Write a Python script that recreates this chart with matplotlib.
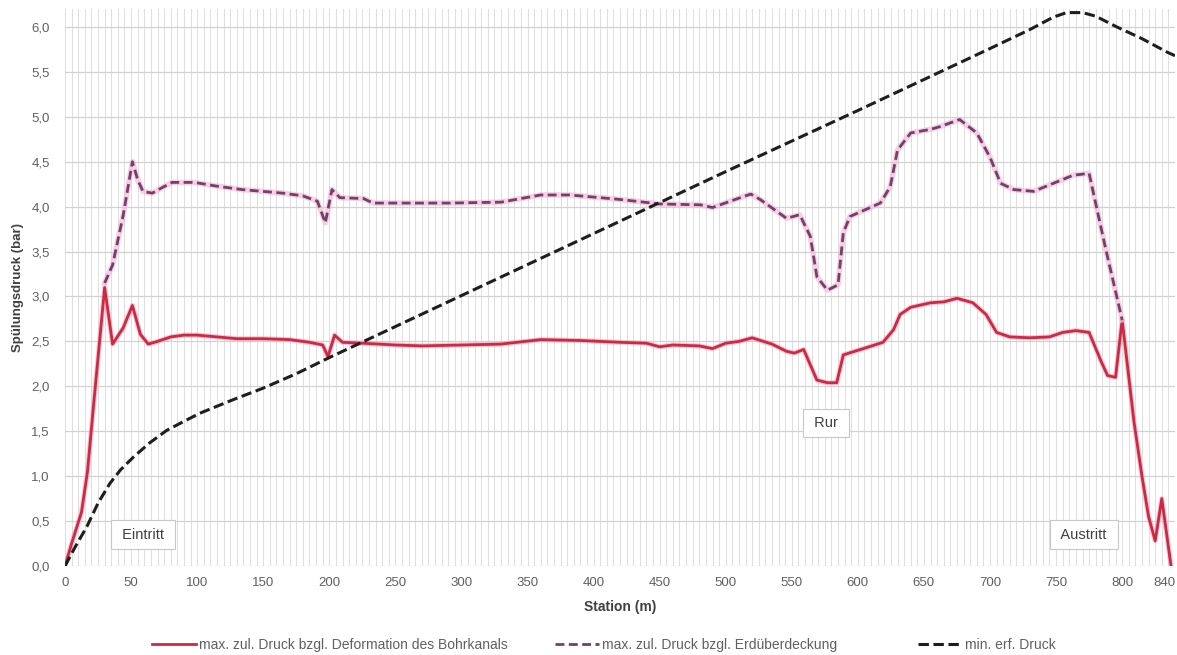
import numpy as np
import matplotlib
matplotlib.use("Agg")
import matplotlib.pyplot as plt
from matplotlib.ticker import MultipleLocator, FuncFormatter

plt.rcParams['font.family'] = ['Liberation Sans', 'DejaVu Sans']

# max. zul. Druck bzgl. Deformation des Bohrkanals
st_def = [0, 5, 12.5, 17, 22, 30, 36, 44, 51, 57, 63, 70, 80, 90, 100, 115, 130, 150,
          170, 185, 195, 199, 204, 210, 225, 250, 270, 300, 330, 360, 390, 420, 440,
          450, 460, 480, 490, 500, 510, 520, 535, 546, 552, 559, 569, 577, 584, 589,
          602, 619, 627, 632, 640, 655, 665, 675, 687, 697, 705, 715, 730, 745, 755,
          765, 775, 784, 789, 795, 800, 809, 815, 820, 825, 830, 837]
val_def = [0, 0.25, 0.6, 1.05, 1.85, 3.1, 2.47, 2.65, 2.9, 2.58, 2.47, 2.5, 2.55, 2.57,
           2.57, 2.55, 2.53, 2.53, 2.52, 2.49, 2.46, 2.33, 2.57, 2.49, 2.48, 2.46, 2.45,
           2.46, 2.47, 2.52, 2.51, 2.49, 2.48, 2.44, 2.46, 2.45, 2.42, 2.48, 2.5, 2.54,
           2.47, 2.39, 2.37, 2.41, 2.07, 2.04, 2.04, 2.35, 2.41, 2.49, 2.63, 2.8, 2.88,
           2.93, 2.94, 2.98, 2.93, 2.8, 2.6, 2.55, 2.54, 2.55, 2.6, 2.62, 2.6, 2.28,
           2.12, 2.1, 2.74, 1.6, 1.0, 0.55, 0.28, 0.75, 0.0]

# max. zul. Druck bzgl. Erdüberdeckung
st_erd = [30, 36, 44, 51, 55, 59, 66, 72, 81, 98, 114, 134, 165, 180, 191, 197, 202,
          208, 226, 233, 260, 291, 330, 360, 382, 420, 450, 481, 490, 511, 519, 526,
          546, 556, 564, 569, 577, 585, 589, 594, 617, 624.5, 630, 640, 655, 662, 677,
          690, 700, 708, 718, 733, 748, 763, 775, 788, 800]
val_erd = [3.15, 3.35, 3.9, 4.5, 4.3, 4.17, 4.15, 4.2, 4.27, 4.27, 4.23, 4.19, 4.15,
           4.12, 4.06, 3.82, 4.19, 4.1, 4.09, 4.04, 4.04, 4.04, 4.05, 4.13, 4.13, 4.08,
           4.03, 4.02, 3.99, 4.1, 4.14, 4.08, 3.87, 3.91, 3.67, 3.22, 3.07, 3.13, 3.71,
           3.89, 4.04, 4.22, 4.63, 4.82, 4.86, 4.89, 4.97, 4.82, 4.55, 4.26, 4.19, 4.17,
           4.26, 4.35, 4.37, 3.5, 2.74]

# min. erf. Druck
st_min = [0, 8, 16.6, 25, 34, 42, 51.6, 64, 77, 90, 102, 127, 150, 175, 200, 300, 400,
          500, 600, 700, 730, 748, 758, 770, 780, 796, 815, 834, 840]
val_min = [0, 0.22, 0.44, 0.7, 0.92, 1.07, 1.21, 1.37, 1.51, 1.61, 1.7, 1.85, 1.98,
           2.14, 2.32, 3.01, 3.7, 4.39, 5.07, 5.76, 5.97, 6.11, 6.16, 6.16, 6.12, 6.0,
           5.87, 5.72, 5.68]

labels = ['max. zul. Druck bzgl. Deformation des Bohrkanals',
          'max. zul. Druck bzgl. Erdüberdeckung',
          'min. erf. Druck']
x_ticks = [0, 50, 100, 150, 200, 250, 300, 350, 400, 450, 500, 550, 600, 650, 700, 750, 800, 840]

# annotation boxes: (text, station, pressure)
notes = [('Eintritt', 59, 0.35), ('Rur', 576, 1.59), ('Austritt', 771, 0.35)]

fig = plt.figure(figsize=(11.77, 6.55), dpi=100)
ax = fig.add_axes([65 / 1177, 89 / 655, 1110 / 1177, 557 / 655])

ax.set_xlim(0, 840)
ax.set_ylim(0, 6.2)

# grid
ax.xaxis.set_minor_locator(MultipleLocator(5))
ax.yaxis.set_major_locator(MultipleLocator(0.5))
ax.set_xticks(x_ticks)
ax.grid(which='minor', axis='x', color='#dedede', lw=0.7)
ax.grid(which='major', axis='x', color='#dedede', lw=0.7)
ax.grid(which='major', axis='y', color='#d2d2d2', lw=0.9)
ax.set_axisbelow(True)
for s in ax.spines.values():
    s.set_visible(False)
ax.tick_params(which='both', length=0, labelsize=9.5, colors='#606060')
ax.tick_params(axis='x', pad=8)
ax.tick_params(axis='y', pad=11)
ax.yaxis.set_major_formatter(FuncFormatter(lambda v, p: f'{v:.1f}'.replace('.', ',')))
ax.get_xticklabels()[-1].set_ha('right')

# lines
ax.plot(st_def, val_def, color='#f2a0b8', lw=3.6, alpha=0.6, solid_capstyle='round')
l1, = ax.plot(st_def, val_def, color='#cc2a42', lw=2.0, label=labels[0])
ax.plot(st_erd, val_erd, color='#f5bcdc', lw=4.0, alpha=0.7)
l2, = ax.plot(st_erd, val_erd, color='#74406a', lw=2.0, dashes=(3.2, 1.6), label=labels[1])
l3, = ax.plot(st_min, val_min, color='#1e1e1e', lw=2.2, dashes=(3.4, 1.5), label=labels[2])

for txt, xs, ys in notes:
    ax.text(xs, ys, ' ' + txt + ' ', ha='center', va='center', fontsize=10.5, color='#404040',
            bbox=dict(boxstyle='square,pad=0.5', fc='white', ec='#c8c8c8', lw=0.8))

ax.set_xlabel('Station (m)', fontsize=10, fontweight='bold', color='#404040', labelpad=8)
ax.set_ylabel('Spülungsdruck (bar)', fontsize=9.5, fontweight='bold', color='#404040', labelpad=5)

# legend entries placed individually, as in the original layout
for h, xleft in zip([l1, l2, l3], [152, 555, 918]):
    leg = fig.legend(handles=[h], loc='center left', bbox_to_anchor=(xleft / 1177, 1 - 645 / 655),
                     frameon=False, fontsize=10, handlelength=3.2, handletextpad=0.2,
                     borderpad=0, borderaxespad=0)
    for t in leg.get_texts():
        t.set_color('#606060')

fig.savefig('out.png', dpi=100, facecolor='white')
